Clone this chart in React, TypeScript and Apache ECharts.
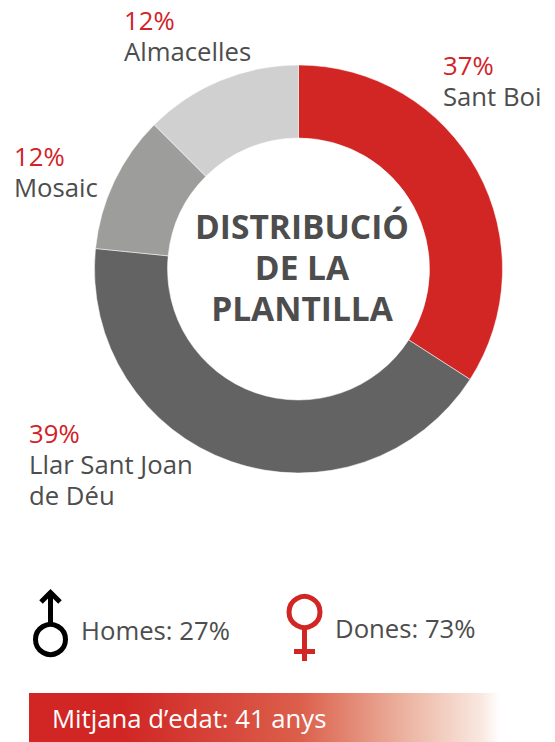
import React, { useEffect, useRef } from "react";
import * as echarts from "echarts";

const sites = ["Sant Boi", "Llar Sant Joan\nde Déu", "Mosaic", "Almacelles"];
const percentLabels = ["37%", "39%", "12%", "12%"];
// Arc shares as drawn in the picture (they differ slightly from the printed labels)
const drawnShares = [34.1, 42.5, 10.9, 12.5];
const sliceColors = ["#d12624", "#636363", "#9d9d9c", "#d0d0d0"];
const labelAnchors = [
  [443, 65],
  [29, 433],
  [14, 156],
  [124, 20],
];
const titleLines = ["DISTRIBUCIÓ", "DE LA", "PLANTILLA"];
const menText = "Homes: 27%";
const womenText = "Dones: 73%";
const ageText = "Mitjana d’edat: 41 anys";

const FONT = "'Open Sans', sans-serif";
const RED = "#d12624";
const GREY = "#4d4d4d";
const LINE = 31;

export default function App() {
  const ref = useRef<HTMLDivElement>(null);
  useEffect(() => {
    if (!ref.current) return;
    const chart = echarts.init(ref.current, undefined, { renderer: "svg" });
    const stroke = (color: string) => ({ stroke: color, lineWidth: 5, fill: "none" });
    const labelText = (text: string, x: number, y: number, fill: string) => ({
      type: "text",
      x,
      y,
      style: { text, fontFamily: FONT, fontSize: 25.7, fill, verticalAlign: "middle" },
    });
    chart.setOption({
      animation: false,
      backgroundColor: "#ffffff",
      series: [
        {
          type: "pie",
          center: [298.5, 269],
          radius: [131, 204],
          startAngle: 90,
          clockwise: true,
          silent: true,
          itemStyle: { borderColor: "#ffffff", borderWidth: 0.5 },
          labelLine: { show: false },
          label: { show: false },
          data: sites.map((name, i) => ({
            name,
            value: drawnShares[i],
            itemStyle: { color: sliceColors[i] },
          })),
        },
      ],
      graphic: [
        ...sites.flatMap((name, i) => {
          const [x, y] = labelAnchors[i];
          return [
            labelText(percentLabels[i], x, y, "#d2232a"),
            ...name.split("\n").map((l, j) => labelText(l, x, y + LINE * (j + 1), GREY)),
          ];
        }),
        ...titleLines.map((t, i) => ({
          type: "text",
          x: 302,
          y: [226, 267, 308][i],
          style: {
            text: t,
            fontFamily: FONT,
            fontWeight: 700,
            fontSize: 33.5,
            fill: GREY,
            align: "center",
            verticalAlign: "middle",
          },
        })),
        // male symbol
        { type: "circle", shape: { cx: 50.5, cy: 639.5, r: 15 }, style: stroke("#000000") },
        { type: "line", shape: { x1: 50.5, y1: 625, x2: 50.5, y2: 592 }, style: stroke("#000000") },
        {
          type: "polyline",
          shape: { points: [[41, 602], [50.5, 592.5], [60, 602]] },
          style: stroke("#000000"),
        },
        // female symbol
        { type: "circle", shape: { cx: 304.5, cy: 612, r: 15.5 }, style: stroke(RED) },
        { type: "line", shape: { x1: 304.5, y1: 627, x2: 304.5, y2: 661 }, style: stroke(RED) },
        { type: "line", shape: { x1: 294, y1: 651.5, x2: 315, y2: 651.5 }, style: stroke(RED) },
        labelText(menText, 81, 630, GREY),
        labelText(womenText, 335, 628, GREY),
        {
          type: "rect",
          shape: { x: 29, y: 693, width: 471, height: 49 },
          style: {
            fill: new echarts.graphic.LinearGradient(0, 0, 1, 0, [
              { offset: 0, color: "#d12624" },
              { offset: 0.2, color: "#d12624" },
              { offset: 0.575, color: "#db5f4b" },
              { offset: 0.79, color: "#ebb09d" },
              { offset: 0.96, color: "#f9e8e0" },
              { offset: 1, color: "#ffffff" },
            ]),
          },
        },
        labelText(ageText, 52, 718, "#ffffff"),
      ],
    });
    return () => chart.dispose();
  }, []);
  return <div ref={ref} style={{ position: "fixed", left: 0, top: 0, width: 555, height: 742 }} />;
}
